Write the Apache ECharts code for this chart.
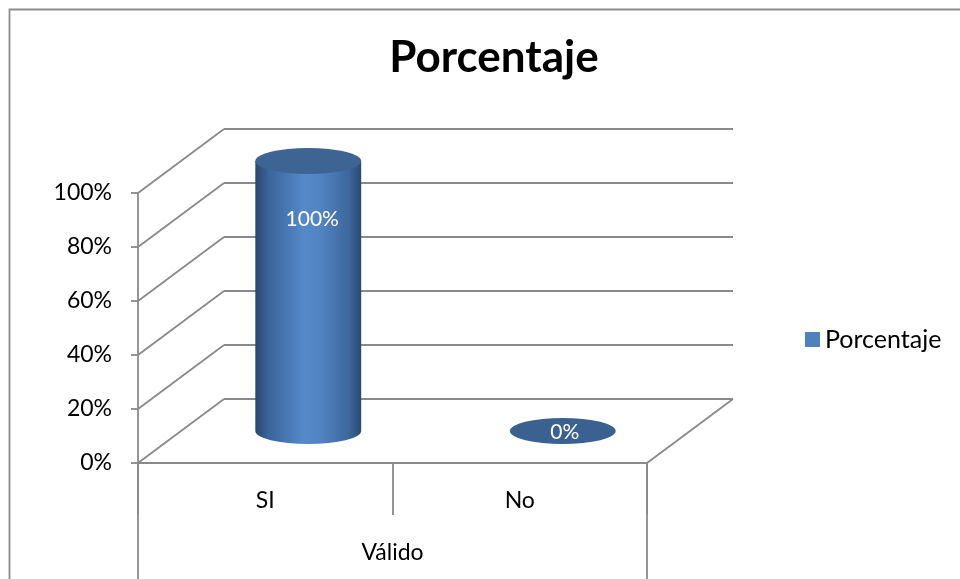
<!DOCTYPE html>
<html>
<head>
<meta charset="utf-8">
<script src="https://cdn.jsdelivr.net/npm/echarts@6/dist/echarts.min.js"></script>
<style>
  html, body { margin: 0; padding: 0; background: #fff; }
  #chart { width: 960px; height: 579px; }
</style>
</head>
<body>
<div id="chart"></div>
<script>
// Chart data
const categories = ['SI', 'No'];
const groupLabels = ['Válido'];
const values = [1.0, 0.0];
const yTicks = [0, 0.2, 0.4, 0.6, 0.8, 1.0];
const seriesName = 'Porcentaje';

// Pseudo-3D depth of the plot box (pixels)
const DEPTH_X = 86;
const DEPTH_Y = -64;
const FONT = 'Lato, "Noto Sans", sans-serif';
const GRID_COLOR = '#8a8a8a';
const LINE_W = 1.8;

const pct = v => Math.round(v * 100) + '%';

const chart = echarts.init(document.getElementById('chart'), null, { renderer: 'canvas' });

// Back wall, side wall and floor lines for each value tick
function renderWalls(params, api) {
  const cs = params.coordSys;
  const v = api.value(1);
  const y = api.coord([0, v])[1];
  const x0 = cs.x, x1 = cs.x + cs.width;
  const style = { stroke: GRID_COLOR, lineWidth: LINE_W, fill: null };
  const children = [
    { type: 'line', shape: { x1: x0, y1: y, x2: x0 + DEPTH_X, y2: y + DEPTH_Y }, style },
    { type: 'line', shape: { x1: x0 + DEPTH_X, y1: y + DEPTH_Y, x2: x1 + DEPTH_X, y2: y + DEPTH_Y }, style }
  ];
  if (v === 0) {
    children.push({ type: 'line', shape: { x1: x1, y1: y, x2: x1 + DEPTH_X, y2: y + DEPTH_Y }, style });
  }
  return { type: 'group', children };
}

// Cylinder standing at mid depth of its category band
function renderCylinder(params, api) {
  const idx = api.value(0);
  const v = api.value(1);
  const base = api.coord([idx, 0]);
  const top = api.coord([idx, v]);
  const band = api.size([1, 0])[0];
  const cx = base[0] + DEPTH_X / 2;
  const yb = base[1] + DEPTH_Y / 2;
  const yt = top[1] + DEPTH_Y / 2;
  const rx = band * 0.208;
  const ry = 13;
  const label = pct(v);
  const textStyle = { text: label, fill: '#ffffff', font: '21px ' + FONT, align: 'center', verticalAlign: 'middle' };

  if (yb - yt < 1) {
    return {
      type: 'group',
      children: [
        { type: 'path', shape: { pathData: `M ${cx - rx} ${yb} A ${rx} ${ry} 0 1 0 ${cx + rx} ${yb} A ${rx} ${ry} 0 1 0 ${cx - rx} ${yb} Z` },
          style: { fill: '#3b6191' } },
        { type: 'text', x: cx + 2, y: yb + 1, style: textStyle }
      ]
    };
  }

  const bodyFill = new echarts.graphic.LinearGradient(0, 0, 1, 0, [
    { offset: 0, color: '#2a466c' },
    { offset: 0.12, color: '#3a6399' },
    { offset: 0.45, color: '#5589c8' },
    { offset: 0.62, color: '#5184c2' },
    { offset: 0.88, color: '#3d679d' },
    { offset: 1, color: '#2c4a71' }
  ]);
  return {
    type: 'group',
    children: [
      { type: 'path',
        shape: { pathData: `M ${cx - rx} ${yt} L ${cx - rx} ${yb} A ${rx} ${ry} 0 0 0 ${cx + rx} ${yb} L ${cx + rx} ${yt} Z` },
        style: { fill: bodyFill } },
      { type: 'path',
        shape: { pathData: `M ${cx - rx} ${yt} A ${rx} ${ry} 0 1 0 ${cx + rx} ${yt} A ${rx} ${ry} 0 1 0 ${cx - rx} ${yt} Z` },
        style: { fill: '#3e6493' } },
      { type: 'text', x: cx + 4, y: yt + 58, style: textStyle }
    ]
  };
}

const option = {
  backgroundColor: '#ffffff',
  animation: false,
  title: {
    text: 'Porcentaje',
    left: 489,
    textAlign: 'center',
    top: 31,
    textStyle: { fontFamily: FONT, fontWeight: 'bold', fontSize: 44, color: '#000' }
  },
  legend: {
    data: [seriesName],
    left: 805,
    top: 327,
    padding: 0,
    icon: 'rect',
    itemWidth: 15,
    itemHeight: 15,
    itemGap: 6,
    textStyle: { fontFamily: FONT, fontSize: 25, color: '#000' }
  },
  grid: { left: 138, right: 313, top: 193, bottom: 116, containLabel: false },
  xAxis: [
    {
      type: 'category',
      data: categories,
      position: 'bottom',
      axisLine: { show: true, lineStyle: { color: GRID_COLOR, width: LINE_W } },
      axisTick: { show: true, length: 52, interval: 0, alignWithLabel: false, lineStyle: { color: GRID_COLOR, width: LINE_W } },
      axisLabel: { margin: 26, fontFamily: FONT, fontSize: 23, color: '#000' },
      splitLine: { show: false }
    },
    {
      type: 'category',
      data: groupLabels,
      position: 'bottom',
      axisLine: { show: false },
      axisTick: { show: true, length: 140, interval: 0, alignWithLabel: false, lineStyle: { color: GRID_COLOR, width: LINE_W } },
      axisLabel: { margin: 78, fontFamily: FONT, fontSize: 23, color: '#000' },
      splitLine: { show: false }
    }
  ],
  yAxis: {
    type: 'value',
    min: 0,
    max: 1,
    interval: 0.2,
    axisLine: { show: true, lineStyle: { color: GRID_COLOR, width: LINE_W } },
    axisTick: { show: true, length: 7, lineStyle: { color: GRID_COLOR, width: LINE_W } },
    axisLabel: { margin: 26, padding: [5, 0, 0, 0], fontFamily: FONT, fontSize: 23, color: '#000', formatter: pct },
    splitLine: { show: false }
  },
  graphic: [
    { type: 'rect', shape: { x: 9.5, y: 9.5, width: 1200, height: 1200 },
      style: { fill: null, stroke: '#8c8c8c', lineWidth: 1.8 }, silent: true, z: 0 }
  ],
  series: [
    {
      name: 'walls',
      type: 'custom',
      renderItem: renderWalls,
      data: yTicks.map(v => [0, v]),
      encode: { x: 0, y: 1 },
      clip: false,
      silent: true,
      z: 1
    },
    {
      name: seriesName,
      type: 'custom',
      renderItem: renderCylinder,
      data: values.map((v, i) => [i, v]),
      encode: { x: 0, y: 1 },
      itemStyle: { color: '#4f81bd' },
      clip: false,
      z: 3
    }
  ]
};

chart.setOption(option);
</script>
</body>
</html>
